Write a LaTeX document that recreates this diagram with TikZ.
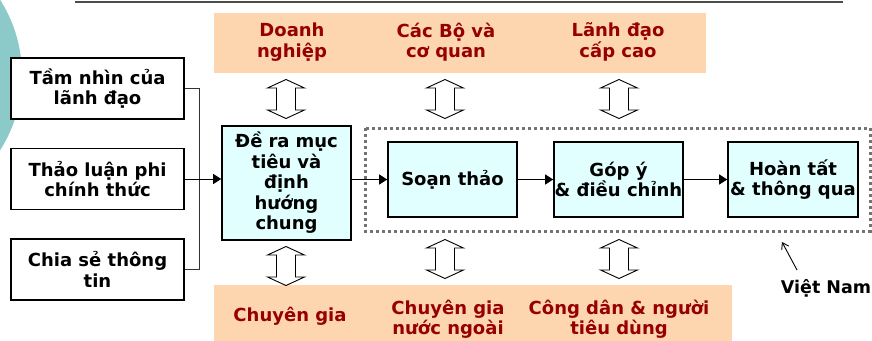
\documentclass[tikz,border=0pt]{standalone}
\usepackage{fontspec}
\setmainfont{DejaVu Sans}
\usetikzlibrary{arrows.meta}
\usetikzlibrary{calc}
\definecolor{peach}{RGB}{253,214,175}
\definecolor{darkred}{RGB}{150,0,0}
\definecolor{lightcyan}{RGB}{225,255,255}
\definecolor{teal}{RGB}{140,201,201}
\tikzset{
  srcbox/.style={draw, line width=1.6pt, fill=white, minimum width=173, minimum height=61, align=center, inner sep=0},
  stagebox/.style={draw, line width=1.6pt, fill=lightcyan, minimum width=129, minimum height=75, align=center, inner sep=0},
  party/.style={text=darkred, align=center},
  dbl/.style={draw, line width=0.9pt, fill=white},
  dotline/.style={draw=black!55, line width=3pt, dash pattern=on 3pt off 3pt},
}
\newcommand{\dblarrow}[2]{% centre x, centre y
  \draw[dbl] (#1-9.5,#2-11) -- (#1-18.5,#2-11) -- (#1,#2-19.5) -- (#1+18.5,#2-11) -- (#1+9.5,#2-11)
    -- (#1+9.5,#2+11) -- (#1+18.5,#2+11) -- (#1,#2+19.5) -- (#1-18.5,#2+11) -- (#1-9.5,#2+11) -- cycle;}
\begin{document}
\begin{tikzpicture}[x=1pt, y=-1pt, >={Triangle[length=8pt,width=10pt]}, font=\bfseries\fontsize{18}{20.5}\selectfont]
\clip (0,0) rectangle (872,340);
\fill[teal] (-118,75) circle (140);
\draw[line width=2pt, black!70] (75,2) -- (843,2);
% stakeholders
\fill[peach] (214,13) rectangle (706,73);
\fill[peach] (214,285) rectangle (732,345);
\node[party] (biz) at (292,42) {Doanh\\nghiệp};
\node[party] (min) at (446,42) {Các Bộ và\\cơ quan};
\node[party] (lead) at (618,42) {Lãnh đạo\\cấp cao};
\node[party] (exp) at (290,316) {Chuyên gia};
\node[party] (fexp) at (448,319) {Chuyên gia\\nước ngoài};
\node[party] (cit) at (619,319) {Công dân \& người\\tiêu dùng};
\dblarrow{286}{99}
\dblarrow{445}{99}
\dblarrow{619}{99}
\dblarrow{286}{266}
\dblarrow{445}{259}
\dblarrow{619}{259}
% inputs
\node[srcbox] (vision) at (97.5,88.5) {Tầm nhìn của\\lãnh đạo};
\node[srcbox] (talk) at (97.5,179) {Thảo luận phi\\chính thức};
\node[srcbox] (share) at (97.5,269.5) {Chia sẻ thông\\tin};
\coordinate (join) at (199,179);
\draw[line width=1pt, black!80] (vision.east) -| (join);
\draw[line width=1pt, black!80] (share.east) -| (join);
% stages
\node[stagebox, minimum height=114, text width=127] (goal) at (286.5,183) {Đề ra mục\\tiêu và\\định\\hướng\\chung};
\draw[dotline] (365,128) rectangle (870,231);
\node[stagebox] (draft) at (452.5,179.5) {Soạn thảo};
\node[stagebox] (review) at (618.5,179.5) {Góp ý\\\& điều chỉnh};
\node[stagebox, minimum width=130] (adopt) at (793,179.5) {Hoàn tất\\\& thông qua};
\draw[->, line width=1pt] (talk.east) -- (talk.east -| goal.west);
\draw[->, line width=1pt] (goal.east |- draft.west) -- (draft.west);
\draw[->, line width=1pt] (draft.east) -- (review.west);
\draw[->, line width=1pt] (review.east) -- (adopt.west);
% label
\node[font=\bfseries\fontsize{17.5}{20}\selectfont] (vn) at (826,288) {Việt Nam};
\coordinate (vtail) at (797,270);
\coordinate (vtip) at (782,242);
\draw[-{Straight Barb[length=6pt,width=8pt]}, line width=0.9pt] (vtail) -- (vtip);
\end{tikzpicture}
\end{document}
